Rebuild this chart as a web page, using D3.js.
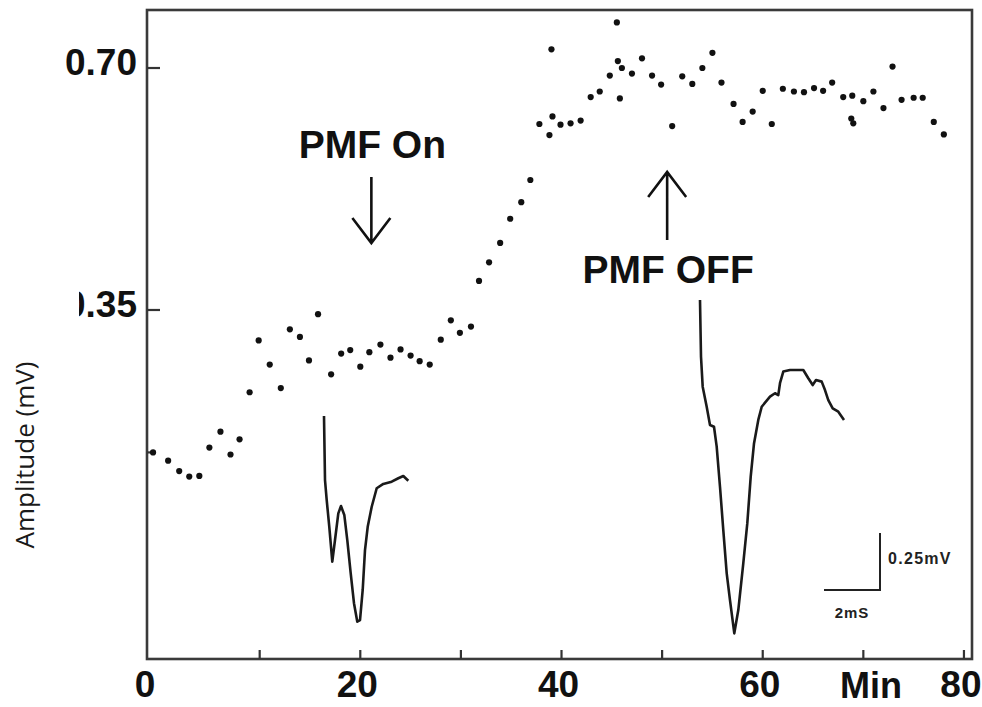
<!DOCTYPE html>
<html>
<head>
<meta charset="utf-8">
<script src="https://cdn.jsdelivr.net/npm/d3@7/dist/d3.min.js"></script>
<style>
  html, body { margin: 0; padding: 0; background: #fff; }
  svg { display: block; }
</style>
</head>
<body>
<svg id="chart" width="982" height="707"></svg>
<script>
// Field potential amplitude (mV) sampled each minute
const minutes = [
  -0.6, 0.9, 2.0, 3.0, 4.0, 5.0, 6.1, 7.1, 8.0, 9.0,
  9.9, 11.0, 12.1, 13.0, 14.0, 14.9, 15.8, 17.1, 18.1, 19.0,
  20.0, 20.9, 22.0, 23.0, 24.0, 25.0, 25.9, 26.9, 28.0, 29.0,
  29.9, 31.0, 31.8, 32.8, 33.9, 34.9, 36.0, 36.9, 37.8, 38.8,
  39.0, 39.1, 39.9, 40.9, 41.9, 42.9, 43.8, 44.8, 45.5, 45.6,
  45.8, 46.0, 47.0, 48.0, 49.0, 49.9, 51.0, 52.0, 53.0, 54.0,
  55.0, 55.9, 57.1, 58.0, 59.0, 60.0, 60.9, 62.0, 63.1, 64.1,
  65.1, 66.0, 66.9, 68.0, 68.9, 68.8, 69.0, 70.0, 71.0, 72.0,
  72.9, 73.8, 75.0, 75.9, 77.0, 78.0
];
const amplitude = [
  0.144, 0.132, 0.117, 0.109, 0.110, 0.151, 0.174, 0.141, 0.163, 0.231,
  0.306, 0.271, 0.237, 0.322, 0.311, 0.277, 0.344, 0.257, 0.287, 0.292,
  0.268, 0.289, 0.300, 0.281, 0.293, 0.284, 0.276, 0.271, 0.307, 0.335,
  0.317, 0.326, 0.392, 0.419, 0.447, 0.482, 0.506, 0.538, 0.619, 0.603,
  0.727, 0.630, 0.618, 0.620, 0.624, 0.658, 0.666, 0.689, 0.766, 0.710,
  0.656, 0.700, 0.692, 0.714, 0.689, 0.676, 0.616, 0.688, 0.677, 0.700,
  0.722, 0.679, 0.648, 0.622, 0.637, 0.667, 0.619, 0.670, 0.666, 0.665,
  0.671, 0.667, 0.679, 0.658, 0.660, 0.627, 0.620, 0.652, 0.666, 0.642,
  0.702, 0.654, 0.657, 0.657, 0.622, 0.604
];

// Sample traces (time in ms from sweep start, voltage in mV from baseline)
const traceBeforeMs = [0, 0.036, 0.096, 0.189, 0.296, 0.393, 0.511, 0.607, 0.725, 0.832,
  0.954, 1.071, 1.189, 1.286, 1.382, 1.464, 1.561, 1.704, 1.882, 2.118,
  2.418, 2.654, 2.832, 3.011];
const traceBeforeMv = [0, -0.281, -0.368, -0.486, -0.639, -0.544, -0.427, -0.395, -0.434, -0.544,
  -0.690, -0.821, -0.902, -0.895, -0.763, -0.588, -0.486, -0.398, -0.317, -0.298,
  -0.288, -0.273, -0.263, -0.284];
const traceAfterMs = [0, 0.036, 0.096, 0.239, 0.357, 0.5, 0.596, 0.714, 0.832, 0.954,
  1.071, 1.225, 1.368, 1.546, 1.689, 1.811, 1.929, 2.082, 2.204, 2.5,
  2.679, 2.796, 2.857, 2.975, 3.214, 3.689, 3.868, 4.025, 4.143, 4.346,
  4.464, 4.582, 4.739, 4.939, 5.143];
const traceAfterMv = [0, -0.249, -0.380, -0.468, -0.548, -0.556, -0.643, -0.819, -1.009, -1.199,
  -1.316, -1.462, -1.360, -1.155, -0.980, -0.775, -0.629, -0.526, -0.468, -0.424,
  -0.409, -0.417, -0.365, -0.314, -0.307, -0.307, -0.343, -0.373, -0.351, -0.358,
  -0.395, -0.439, -0.475, -0.490, -0.526];

// Axis ticks
const xTickLabels = [0, 20, 40, 60, 80];
const xTicks = [10, 20, 30, 40, 50, 60, 70, 80];
const yTickLabels = [0.70, 0.35];
const yTicks = [0.70, 0.35, 0.144];

// Scale bar and event markers
const scaleBarMs = 2;
const scaleBarMv = 0.25;
const pmfOnMin = 21.1;
const pmfOffMin = 50.5;

const svg = d3.select("#chart");
const FONT = "'Liberation Sans', Arial, Helvetica, sans-serif";

const plot = { left: 147, top: 10, right: 972, bottom: 659 };

const x = d3.scaleLinear().domain([-1.2, 80.8]).range([plot.left, plot.right]);
const y = d3.scaleLinear().domain([-0.1548, 0.7839]).range([plot.bottom, plot.top]);

// frame
svg.append("rect")
  .attr("x", plot.left).attr("y", plot.top)
  .attr("width", plot.right - plot.left).attr("height", plot.bottom - plot.top)
  .attr("fill", "none").attr("stroke", "#3a3a3a").attr("stroke-width", 2.6);

// inward ticks on bottom edge
svg.append("g").selectAll("line").data(xTicks).join("line")
  .attr("x1", d => x(d)).attr("x2", d => x(d))
  .attr("y1", plot.bottom).attr("y2", plot.bottom - 9)
  .attr("stroke", "#333").attr("stroke-width", 2.2);

// inward ticks on left edge
svg.append("g").selectAll("line").data(yTicks).join("line")
  .attr("x1", plot.left).attr("x2", d => plot.left + (d > 0.3 ? 13 : 9))
  .attr("y1", d => y(d)).attr("y2", d => y(d))
  .attr("stroke", "#333").attr("stroke-width", 2.2);

// x tick labels
svg.append("g").selectAll("text").data(xTickLabels).join("text")
  .attr("x", d => x(d)).attr("y", 697)
  .attr("dx", d => d === 0 ? -14 : -3)
  .attr("text-anchor", "middle")
  .attr("font-family", FONT).attr("font-weight", "bold").attr("font-size", 37)
  .attr("fill", "#111")
  .text(d => d);

svg.append("text")
  .attr("x", 840).attr("y", 698)
  .attr("font-family", FONT).attr("font-weight", "bold").attr("font-size", 36)
  .attr("fill", "#111")
  .text("Min");

// y tick labels (left part of the lower one is cut off)
svg.append("clipPath").attr("id", "ylab-clip")
  .append("rect").attr("x", 79).attr("y", 0).attr("width", 70).attr("height", 707);
svg.append("g").selectAll("text").data(yTickLabels).join("text")
  .attr("x", plot.left - 10).attr("y", d => y(d) + 7)
  .attr("text-anchor", "end")
  .attr("clip-path", d => d < 0.5 ? "url(#ylab-clip)" : null)
  .attr("font-family", FONT).attr("font-weight", "bold").attr("font-size", 37)
  .attr("fill", "#111")
  .text(d => d.toFixed(2));

// y axis title
svg.append("text")
  .attr("transform", "translate(34,455) rotate(-90)")
  .attr("text-anchor", "middle")
  .attr("font-family", "'Open Sans', sans-serif").attr("font-size", 26)
  .attr("fill", "#1a1a1a")
  .text("Amplitude (mV)");

// data points
svg.append("g").selectAll("circle").data(minutes.map((m, i) => [m, amplitude[i]])).join("circle")
  .attr("cx", d => x(d[0])).attr("cy", d => y(d[1]))
  .attr("r", 3.1).attr("fill", "#111");

// inset traces
const msScale = d3.scaleLinear().domain([0, 1]).range([0, 28]);
const mvScale = d3.scaleLinear().domain([0, 1]).range([0, -228]);

function drawTrace(ms, mv, ox, oy) {
  const line = d3.line()
    .x((d, i) => ox + msScale(ms[i]))
    .y((d, i) => oy + mvScale(mv[i]));
  svg.append("path")
    .attr("d", line(ms))
    .attr("fill", "none").attr("stroke", "#1a1a1a")
    .attr("stroke-width", 2.6).attr("stroke-linejoin", "round");
}
drawTrace(traceBeforeMs, traceBeforeMv, 324, 416);
drawTrace(traceAfterMs, traceAfterMv, 700, 300);

// calibration bar
const barX = 880, barY = 590;
svg.append("path")
  .attr("d", `M${barX - msScale(scaleBarMs)},${barY}H${barX}V${barY + mvScale(scaleBarMv)}`)
  .attr("fill", "none").attr("stroke", "#222").attr("stroke-width", 2);
svg.append("text")
  .attr("x", barX + 8).attr("y", 564)
  .attr("font-family", FONT).attr("font-weight", "bold").attr("font-size", 16)
  .attr("letter-spacing", 1.3).attr("fill", "#222")
  .text(scaleBarMv + "mV");
svg.append("text")
  .attr("x", barX - msScale(scaleBarMs) / 2).attr("y", 618)
  .attr("text-anchor", "middle")
  .attr("font-family", FONT).attr("font-weight", "bold").attr("font-size", 15)
  .attr("letter-spacing", 1).attr("fill", "#222")
  .text(scaleBarMs + "mS");

// event annotations
function arrow(xc, yTail, yTip) {
  const dir = yTip > yTail ? 1 : -1;
  svg.append("path")
    .attr("d", `M${xc},${yTail}V${yTip}M${xc - 19},${yTip - dir * 25}L${xc},${yTip}L${xc + 19},${yTip - dir * 25}`)
    .attr("fill", "none").attr("stroke", "#111").attr("stroke-width", 2.6)
    .attr("stroke-linejoin", "miter");
}
arrow(x(pmfOnMin), 177, 243);
arrow(x(pmfOffMin), 240, 172);

svg.append("text")
  .attr("x", x(pmfOnMin) + 1).attr("y", 158)
  .attr("text-anchor", "middle")
  .attr("font-family", FONT).attr("font-weight", "bold").attr("font-size", 39)
  .attr("fill", "#111")
  .text("PMF On");
svg.append("text")
  .attr("x", x(pmfOffMin) + 1).attr("y", 283)
  .attr("text-anchor", "middle")
  .attr("font-family", FONT).attr("font-weight", "bold").attr("font-size", 39)
  .attr("fill", "#111")
  .text("PMF OFF");
</script>
</body>
</html>
